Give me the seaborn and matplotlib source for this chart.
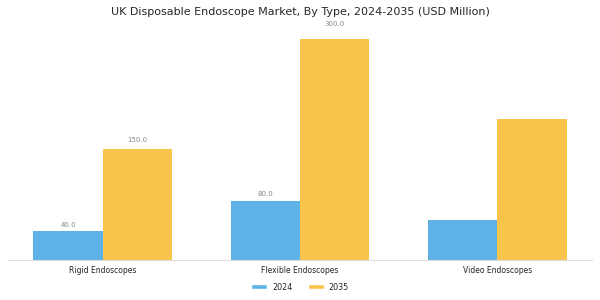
import pandas as pd
import matplotlib.pyplot as plt
from matplotlib.patches import Patch
import seaborn as sns

categories = ["Rigid Endoscopes", "Flexible Endoscopes", "Video Endoscopes"]
years = ["2024", "2035"]
values_2024 = [40.0, 80.0, 54.0]
values_2035 = [150.0, 300.0, 192.0]
# only these bars carry a value label in the reference
labeled = {("Rigid Endoscopes", "2024"), ("Rigid Endoscopes", "2035"),
           ("Flexible Endoscopes", "2024"), ("Flexible Endoscopes", "2035")}

records = []
for cat, v1, v2 in zip(categories, values_2024, values_2035):
    records.append({"Type": cat, "Year": "2024", "Value": v1})
    records.append({"Type": cat, "Year": "2035", "Value": v2})
df = pd.DataFrame(records)

sns.set_style("white")
plt.rcParams['font.family'] = ['DejaVu Sans']

fig = plt.figure(figsize=(6, 3), dpi=100)
ax = fig.add_axes([0.013, 0.133, 0.974, 0.767])
palette = {"2024": "#5DB3E6", "2035": "#F9C44B"}
sns.barplot(data=df, x="Type", y="Value", hue="Year", hue_order=years,
            palette=palette, width=0.7, saturation=1, linewidth=0,
            legend=False, ax=ax)

for container, year in zip(ax.containers, years):
    for bar, cat in zip(container, categories):
        if (cat, year) in labeled:
            h = bar.get_height()
            ax.text(bar.get_x() + bar.get_width() / 2, h * 1.05 + 5,
                    f"{h:.1f}", ha="center", va="center",
                    fontsize=5, color="#888888")

ax.set_xlim(-0.48, 2.48)
ax.set_ylim(0, 312)
ax.set_yticks([])
ax.set_xlabel("")
ax.set_ylabel("")
for s in ["left", "right", "top"]:
    ax.spines[s].set_visible(False)
ax.spines["bottom"].set_color("#dddddd")
ax.tick_params(axis="x", labelsize=5.5, length=3, color="#888888", pad=1.5)
fig.suptitle("UK Disposable Endoscope Market, By Type, 2024-2035 (USD Million)",
             fontsize=8, y=0.96, va="center")
handles = [Patch(facecolor=palette[y], label=y) for y in years]
ax.legend(handles=handles, loc="center", bbox_to_anchor=(0.5, -0.117), ncol=2,
          frameon=False, fontsize=5.8, handlelength=2.0, handleheight=0.6,
          handletextpad=0.6, columnspacing=1.9)

plt.savefig("out.png", dpi=100)
plt.close()
